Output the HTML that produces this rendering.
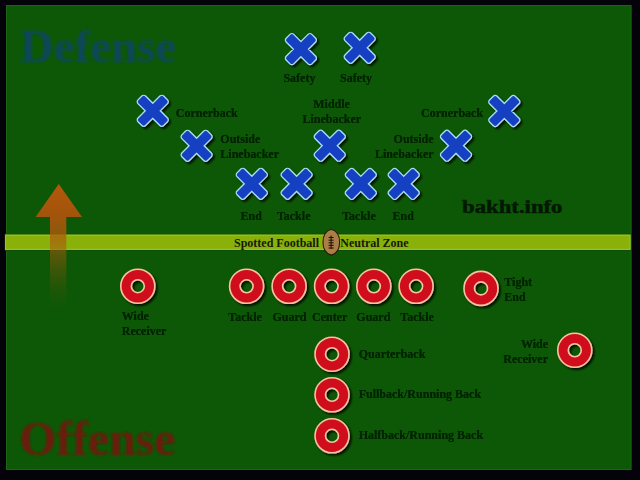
<!DOCTYPE html>
<html><head><meta charset="utf-8">
<style>
html,body{margin:0;padding:0;background:#040309;}
body{width:640px;height:480px;overflow:hidden;position:relative;}
svg{position:absolute;left:0;top:0;display:block;}
text{font-family:"Liberation Serif",serif;font-weight:bold;}
</style></head><body>
<svg width="640" height="480" viewBox="0 0 640 480">
<defs>
  <filter id="sh" x="-50%" y="-50%" width="200%" height="200%">
    <feGaussianBlur in="SourceAlpha" stdDeviation="1.3"/>
    <feOffset dx="1.5" dy="1.5" result="b"/>
    <feComponentTransfer><feFuncA type="linear" slope="0.8"/></feComponentTransfer>
    <feMerge><feMergeNode/><feMergeNode in="SourceGraphic"/></feMerge>
  </filter>
  <filter id="tsh" x="-20%" y="-50%" width="140%" height="200%">
    <feGaussianBlur in="SourceGraphic" stdDeviation="0.7" result="bl"/>
    <feComponentTransfer in="bl" result="bl2"><feFuncA type="linear" slope="0.9"/></feComponentTransfer>
    <feMerge><feMergeNode in="bl2"/><feMergeNode in="SourceGraphic"/></feMerge>
  </filter>
  <filter id="tb" x="-10%" y="-30%" width="120%" height="160%">
    <feGaussianBlur in="SourceGraphic" stdDeviation="0.8"/>
  </filter>
  <linearGradient id="ag" x1="0" y1="184" x2="0" y2="308" gradientUnits="userSpaceOnUse">
    <stop offset="0" stop-color="#b4580c" stop-opacity="1"/>
    <stop offset="0.27" stop-color="#a8540c" stop-opacity="0.95"/>
    <stop offset="0.4" stop-color="#b05a0c" stop-opacity="0.78"/>
    <stop offset="0.53" stop-color="#a85a0c" stop-opacity="0.55"/>
    <stop offset="0.7" stop-color="#9a520c" stop-opacity="0.32"/>
    <stop offset="0.85" stop-color="#8a4a0c" stop-opacity="0.14"/>
    <stop offset="1" stop-color="#7a4010" stop-opacity="0"/>
  </linearGradient>
  <g id="X">
    <g filter="url(#sh)">
      <path d="M-7.64,-14.28 L14.28,7.64 A2.00,2.00 0 0 1 14.28,10.47 L10.47,14.28 A2.00,2.00 0 0 1 7.64,14.28 L-14.28,-7.64 A2.00,2.00 0 0 1 -14.28,-10.47 L-10.47,-14.28 A2.00,2.00 0 0 1 -7.64,-14.28 Z M-14.28,7.64 L7.64,-14.28 A2.00,2.00 0 0 1 10.47,-14.28 L14.28,-10.47 A2.00,2.00 0 0 1 14.28,-7.64 L-7.64,14.28 A2.00,2.00 0 0 1 -10.47,14.28 L-14.28,10.47 A2.00,2.00 0 0 1 -14.28,7.64 Z" fill="#1940c2" stroke="#a8e0f2" stroke-width="2.6"/>
      <path d="M-7.64,-14.28 L14.28,7.64 A2.00,2.00 0 0 1 14.28,10.47 L10.47,14.28 A2.00,2.00 0 0 1 7.64,14.28 L-14.28,-7.64 A2.00,2.00 0 0 1 -14.28,-10.47 L-10.47,-14.28 A2.00,2.00 0 0 1 -7.64,-14.28 Z M-14.28,7.64 L7.64,-14.28 A2.00,2.00 0 0 1 10.47,-14.28 L14.28,-10.47 A2.00,2.00 0 0 1 14.28,-7.64 L-7.64,14.28 A2.00,2.00 0 0 1 -10.47,14.28 L-14.28,10.47 A2.00,2.00 0 0 1 -14.28,7.64 Z" fill="#1940c2"/>
    </g>
  </g>
  <g id="O">
    <g filter="url(#sh)">
      <path d="M0,-17 A17,17 0 1 1 0,17 A17,17 0 1 1 0,-17 Z M0,-6.5 A6.5,6.5 0 1 0 0,6.5 A6.5,6.5 0 1 0 0,-6.5 Z" fill="#d0101a" fill-rule="evenodd" stroke="#f5c4a0" stroke-width="1.6"/>
    </g>
  </g>
</defs>
<!-- field -->
<rect x="6" y="5" width="625.5" height="465" fill="#0d5806"/>
<rect x="6.5" y="5.5" width="624.5" height="464" fill="none" stroke="#2a6a22" stroke-width="1" opacity="0.6"/>
<!-- band -->
<rect x="5" y="233.7" width="625.5" height="17.2" fill="#0a4e05"/>
<rect x="5" y="234.7" width="625.5" height="15.2" fill="#8ab00a"/>
<rect x="5.5" y="235.2" width="624.5" height="14.2" fill="none" stroke="#96c22e" stroke-width="1.2"/>
<!-- arrow -->
<path d="M58.75,184 L82,217 L66.3,217 L66.3,308 L50,308 L50,217 L35.6,217 Z" fill="url(#ag)"/>
<!-- titles -->
<text x="19.8" y="61.8" font-size="47" fill="#0e4658" filter="url(#tb)">Defense</text>
<text x="19.3" y="455.3" font-size="47.6" fill="#6a1c08" filter="url(#tb)">Offense</text>
<text x="462" y="212.6" font-size="19.8" fill="#031803" stroke="#031803" stroke-width="0.5" textLength="100.5" lengthAdjust="spacingAndGlyphs">bakht.info</text>
<!-- defense -->
<use href="#X" x="300.9" y="49.1"/>
<use href="#X" x="359.7" y="47.8"/>
<use href="#X" x="152.75" y="110.8"/>
<use href="#X" x="504.3" y="111"/>
<use href="#X" x="196.6" y="145.8"/>
<use href="#X" x="329.75" y="145.7"/>
<use href="#X" x="456" y="145.7"/>
<use href="#X" x="251.8" y="183.8"/>
<use href="#X" x="296.6" y="183.8"/>
<use href="#X" x="360.8" y="183.9"/>
<use href="#X" x="403.7" y="183.9"/>
<g font-size="12" fill="#062206" filter="url(#tsh)">
<text x="283.4" y="81.7">Safety</text>
<text x="340" y="81.7">Safety</text>
<text x="175.8" y="116.7">Cornerback</text>
<text x="331.6" y="108" text-anchor="middle">Middle</text>
<text x="331.8" y="123" text-anchor="middle">Linebacker</text>
<text x="483.1" y="117" text-anchor="end">Cornerback</text>
<text x="220.3" y="142.5">Outside</text>
<text x="220.3" y="157.5">Linebacker</text>
<text x="433.6" y="142.5" text-anchor="end">Outside</text>
<text x="433.6" y="157.5" text-anchor="end">Linebacker</text>
<text x="240.6" y="219.5">End</text>
<text x="276.9" y="219.5">Tackle</text>
<text x="342.2" y="219.5">Tackle</text>
<text x="392.5" y="219.5">End</text>
</g>
<!-- line of scrimmage labels -->
<g font-size="12" fill="#121c04">
<text x="234" y="246.8">Spotted Football</text>
<text x="340.3" y="246.8">Neutral Zone</text>
</g>
<!-- football -->
<g>
<path d="M331.3,229.3 C337.5,231 339.6,237 339.6,242.2 C339.6,247.4 337.5,253.4 331.3,255.1 C325.1,253.4 323,247.4 323,242.2 C323,237 325.1,231 331.3,229.3 Z" fill="#aa7e48" stroke="#2a1c06" stroke-width="1.1"/>
<g stroke="#2a1505" stroke-width="1.1">
<line x1="331.1" y1="235.5" x2="331.1" y2="249"/>
<line x1="328.6" y1="237.5" x2="333.6" y2="237.5"/>
<line x1="328.6" y1="240.2" x2="333.6" y2="240.2"/>
<line x1="328.6" y1="242.8" x2="333.6" y2="242.8"/>
<line x1="328.6" y1="245.4" x2="333.6" y2="245.4"/>
<line x1="328.6" y1="248" x2="333.6" y2="248"/>
</g>
</g>
<!-- offense -->
<use href="#O" x="137.8" y="286.2"/>
<use href="#O" x="246.6" y="286.3"/>
<use href="#O" x="289.1" y="286.3"/>
<use href="#O" x="331.6" y="286.3"/>
<use href="#O" x="373.8" y="286.3"/>
<use href="#O" x="416.1" y="286.3"/>
<use href="#O" x="481" y="288.4"/>
<use href="#O" x="574.75" y="350.25"/>
<use href="#O" x="332" y="354.2"/>
<use href="#O" x="332" y="394.8"/>
<use href="#O" x="332" y="435.8"/>
<g font-size="12" fill="#062206" filter="url(#tsh)">
<text x="121.8" y="319.8">Wide</text>
<text x="121.8" y="335.2">Receiver</text>
<text x="228.25" y="320.6">Tackle</text>
<text x="272.4" y="320.6">Guard</text>
<text x="312" y="320.6">Center</text>
<text x="356.3" y="320.6">Guard</text>
<text x="400.3" y="320.6">Tackle</text>
<text x="504.3" y="285.5">Tight</text>
<text x="504.3" y="301">End</text>
<text x="548" y="347.5" text-anchor="end">Wide</text>
<text x="548" y="362.5" text-anchor="end">Receiver</text>
<text x="358.7" y="357.9">Quarterback</text>
<text x="358.7" y="397.7">Fullback/Running Back</text>
<text x="358.7" y="439">Halfback/Running Back</text>
</g>
</svg>
</body></html>
